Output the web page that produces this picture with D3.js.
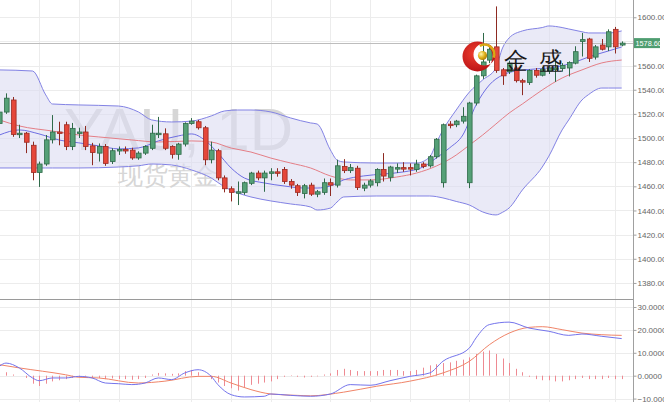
<!DOCTYPE html>
<html><head><meta charset="utf-8">
<script src="https://cdn.jsdelivr.net/npm/d3@7"></script>
<style>
body{margin:0;background:#fff;overflow:hidden}
svg{display:block}
text{font-family:"Liberation Sans",Arial,sans-serif}
</style>
</head><body>
<svg id="c" width="664" height="402"></svg>
<script>
// ---- Candles (daily, index 0..94) ----
const opens = [1512,1521.5,1531.5,1503.5,1504,1494,1471.5,1478.5,1498.5,1505,
1511,1493,1504.5,1505,1493.5,1487.5,1493,1480.5,1489.5,1490.5,
1490,1483.5,1487.5,1491.5,1503.5,1503.5,1493,1486.5,1495,1512,
1513.5,1508.5,1482,1489.5,1467,1458,1455,1455,1462.5,1471,
1467,1471.5,1472,1474,1464,1460.5,1454,1461,1453.5,1455,
1463,1461,1476.5,1473,1475,1458.5,1461,1463,1474,1467.5,
1475,1475.5,1475.5,1474,1478.5,1477,1484.5,1463,1511.5,1511,
1514,1463,1529,1551.5,1564.5,1575.5,1556.5,1555,1558,1547.5,
1546,1556,1552,1555.5,1557.5,1557.5,1558,1562,1580,1582,
1567,1577,1575.5,1590,1577];
const closes = [1521.5,1533,1503,1504,1496.5,1471.5,1478.5,1498.5,1505,1504,
1493,1508,1505,1493,1488,1493,1479,1489.5,1490.5,1489.5,
1483.5,1487.5,1493,1504,1504,1491.5,1486.5,1495,1512,1514,
1508.5,1482,1490,1467,1458,1455,1455.5,1463,1471,1467,
1471,1472,1471,1464,1461,1455,1460.5,1453.5,1455.5,1463,
1461,1477,1473,1475.5,1459,1461,1464.5,1474,1468.5,1476,
1475.5,1475,1474.5,1478.5,1476.5,1484.5,1499,1511,1510.5,1514,
1518,1529,1551.5,1563,1573.5,1556,1551.5,1562,1547.5,1546.5,
1556,1552,1557,1558,1558,1560,1562.5,1571.5,1581.5,1566,
1575.5,1573.5,1588,1575.5,1578.6];
const highs = [1525,1537,1534,1511,1505,1497,1480.5,1502.5,1519,1513.5,
1513.5,1512.5,1508.5,1510,1496,1495.5,1495,1491.5,1493,1493,
1492,1489,1494,1511,1517.5,1508,1494,1496,1513,1516.5,
1515,1510,1497,1491,1469,1460,1464,1464,1472,1473,
1473,1475,1475,1476,1466,1462,1462,1463,1457,1466.5,
1466.5,1482,1482.5,1478.5,1477,1463,1466,1475,1487.5,1477,
1479,1480,1479,1482,1480,1486,1500,1512,1514,1515,
1525.5,1530,1552.5,1587,1576,1609,1558,1564,1560,1549,
1557,1558,1559,1560,1565,1562,1563.5,1576,1587,1583,
1577,1582,1590,1592,1580];
const lows = [1509,1520,1501,1500,1487.5,1465,1459.5,1477,1495.5,1494,
1490,1490,1500,1490,1477.5,1480.5,1477,1478.5,1486,1487,
1482,1482,1486,1490,1500,1490,1483,1482,1493,1511,
1507,1477.5,1479,1465,1455,1447.5,1444.5,1453,1461,1465,
1455.5,1465,1468,1462,1458,1452,1450,1452,1451,1453,
1452,1459,1471,1471,1457,1456,1459,1460,1464,1464,
1471,1472,1469,1472,1475,1475.5,1483,1459,1508,1509,
1512,1458.5,1527,1549,1562,1554,1544,1553,1546,1535.5,
1544,1550,1551,1553,1546.5,1555,1551,1561,1567.5,1563,
1565,1572.5,1572,1570,1576];
const lastPrice = 1578.6;

// ---- Bollinger bands (read at candle indices) ----
const bbIdx   = [0,5,7,8,12,18,21,23,26,29,32,34,36,38,41,44,47,48,50,51,52,57,63,65,66,67,69,71,73,75,76,77,79,82,83,85,86,88,89,91,92,94];
const bbUpper = [1556.4,1555.5,1535.7,1528.2,1527.4,1526.5,1521.6,1515,1513.3,1514,1518.3,1522.4,1523.2,1523.2,1521.6,1516.6,1512.5,1511.6,1490.1,1481.8,1480.2,1479.3,1479.3,1484.3,1495.9,1506.7,1523.2,1538.1,1548.1,1558,1574.6,1582.9,1588.7,1591.5,1592.8,1591.5,1590.3,1588,1587,1587,1587,1588.7];
const bbLower = [1475.2,1475.2,1475.2,1475.2,1475.2,1476,1477,1478.5,1477.7,1473.6,1466.9,1459.5,1454.5,1451.2,1447.9,1445.4,1442.9,1440.4,1442,1447,1451.2,1452,1452,1452,1451.5,1450.4,1447.5,1444.5,1438.8,1436.3,1438.5,1442.1,1457,1476,1485,1506.7,1515,1531.5,1536,1541.4,1541.4,1541.4];

// ---- moving averages ----
const maRedIdx = [0,3,8,12,15,20,24,29,32,35,38,41,44,47,50,53,56,60,63,66,69,71,73,75,77,79,82,85,88,91,94];
const maRedVal = [1515,1510,1505.8,1502.5,1500.9,1498.4,1496.7,1497.6,1496.7,1491.7,1488.4,1483.4,1479.3,1475.2,1468.6,1465.3,1465.3,1467.7,1471,1476.8,1485.9,1494.2,1502.5,1511.6,1520.7,1528.2,1539.8,1549.7,1556.4,1562.2,1564.6];
const maBlueIdx = [0,3,6,9,12,15,18,21,24,27,29,31,33,35,37,40,43,46,48,50,52,55,58,61,64,66,68,70,72,74,76,78,81,84,87,89,92,94];
const maBlueVal = [1502.5,1506.7,1503.4,1498.4,1496,1493.5,1491,1491.8,1497.6,1501.7,1503.4,1498.4,1487.6,1475.2,1466.9,1462.8,1460.3,1458.6,1458.6,1460.3,1465.3,1468.6,1470.2,1471.9,1476,1483.5,1491.8,1502.5,1527.4,1543.9,1552.2,1555.5,1557.2,1558.8,1563,1567.1,1572.1,1575.4];

// ---- MACD ----
const macdIdx = [0,1,3,5,6,8,10,12,14,16,18,20,22,24,26,28,30,32,33,35,37,40,41,44,47,50,53,56,59,62,65,67,71,72,74,77,80,83,86,88,91,94];
const macdVal = [4.1,5.5,3.4,-1,-2.2,-1,-1,-0.3,-1,-3.2,-3.5,-3.9,-3.2,-1,-1.7,1.2,2.6,-0.3,-3.9,-8.3,-9.3,-9,-8,-8.6,-9,-8,-3.9,-4.2,-2.2,-0.3,1.2,6.3,12.1,16.5,22.3,23.4,20.8,19.4,17.6,18.2,17.2,16.2];
const sigIdx = [0,3,10,12,15,21,25,30,32,35,38,41,45,47,52,57,62,67,71,74,77,80,82,85,88,91,94];
const sigVal = [4.8,3.4,0.4,-0.7,-1,-3.2,-2.4,-0.3,-0.3,-3.2,-6.1,-8,-8.6,-8.8,-7.2,-4.6,-2.4,1.2,6.3,13.5,18.6,21.1,21.4,20.1,18.6,17.9,17.6];
const hist = [1,1.5,0.5,0,-1,-3.5,-4.5,-3.5,-2.5,-2,
-1.5,-1,-0.5,-0.5,-1,-1,-1.5,-1.2,-1.5,-1.5,
-1.8,-1.5,-1,0.5,1.2,1,0.8,1,2,2.5,
1.5,0,-1.5,-3,-4.5,-5.5,-6.5,-5,-4,-3.5,
-3,-2.5,-1.5,-0.5,0.2,-0.5,-0.8,-0.5,-0.3,0.5,
1,2.5,3,2.5,2,2,2,2,2.5,2.5,
2.5,2,2,2.5,3.5,4.5,5,5.5,5.8,6.5,
7,8,9.5,10.5,11,9.5,7.5,5.5,3,1.5,
-0.5,-1.5,-2,-2,-2.5,-2.5,-2,-1.5,-1,-1.5,
-1.5,-1.5,-1,-1.5,-1.5];

// ---- axes / grid ----
const priceTicks = [1380,1400,1420,1440,1460,1480,1500,1520,1540,1560,1580,1600];
const macdTicks = [-10,0,10,20,30];
const gridIdx = [6,12,18,29,35,41,50,56,62,71,77,83,93];
const watermark1 = "YAU, 1D";
const watermark2 = "现货黄金";
const brandChars = ["金","盛"];

// ================= drawing =================
const svg = d3.select('#c');
const AX = 633.5, PW = 633;
const x = d3.scaleLinear().domain([0, opens.length-1]).range([-0.6, 621.7]);
const y = d3.scaleLinear().domain([1366.7, 1614.3]).range([299, 0]);
const ym = d3.scaleLinear().domain([-11.5, 33.06]).range([402, 300]);

const defs = svg.append('defs');
defs.append('clipPath').attr('id','cp1').append('rect').attr('x',0).attr('y',0).attr('width',PW).attr('height',299);
defs.append('clipPath').attr('id','cp2').append('rect').attr('x',0).attr('y',300).attr('width',PW).attr('height',102);
const rg = defs.append('radialGradient').attr('id','gold').attr('cx','35%').attr('cy','35%').attr('r','70%');
rg.append('stop').attr('offset','0%').attr('stop-color','#fff6b0');
rg.append('stop').attr('offset','55%').attr('stop-color','#e0b21c');
rg.append('stop').attr('offset','100%').attr('stop-color','#a77a06');
const rr = defs.append('radialGradient').attr('id','redg').attr('cx','40%').attr('cy','40%').attr('r','70%');
rr.append('stop').attr('offset','0%').attr('stop-color','#f04030');
rr.append('stop').attr('offset','100%').attr('stop-color','#b30d12');

const px = v => Math.round(v) + 0.5;

// grid
const grid = svg.append('g').attr('stroke','#ececec').attr('stroke-width',1);
grid.selectAll('.hg').data(priceTicks).join('line')
  .attr('x1',0).attr('x2',PW).attr('y1',d=>px(y(d))).attr('y2',d=>px(y(d)));
grid.selectAll('.mg').data(macdTicks).join('line')
  .attr('x1',0).attr('x2',PW).attr('y1',d=>px(ym(d))).attr('y2',d=>px(ym(d)));
grid.selectAll('.vg').data(gridIdx).join('line')
  .attr('x1',d=>px(x(d))).attr('x2',d=>px(x(d))).attr('y1',0).attr('y2',402);

// price panel
const main = svg.append('g').attr('clip-path','url(#cp1)');

// watermark
main.append('text').attr('x',64).attr('y',150).attr('font-size',60)
  .attr('fill','#d6d6d6').attr('font-family','"Liberation Sans",Arial,sans-serif').text(watermark1);
main.append('text').attr('x',118).attr('y',184).attr('font-size',25)
  .attr('fill','#d6d6d6').attr('font-family','"Noto Sans CJK SC",sans-serif').text(watermark2);

// bollinger
const bb = bbIdx.map((d,i)=>({i:d,u:bbUpper[i],l:bbLower[i]}));
const area = d3.area().x(d=>x(d.i)).y0(d=>y(d.l)).y1(d=>y(d.u)).curve(d3.curveMonotoneX);
main.append('path').datum(bb).attr('d',area).attr('fill','#dcdcf2').attr('fill-opacity',0.6);
const lineU = d3.line().x(d=>x(d.i)).y(d=>y(d.u)).curve(d3.curveMonotoneX);
const lineL = d3.line().x(d=>x(d.i)).y(d=>y(d.l)).curve(d3.curveMonotoneX);
main.append('path').datum(bb).attr('d',lineU).attr('fill','none').attr('stroke','#8282e4').attr('stroke-width',1);
main.append('path').datum(bb).attr('d',lineL).attr('fill','none').attr('stroke','#8282e4').attr('stroke-width',1);

const pl = d3.line().x(d=>x(d[0])).y(d=>y(d[1])).curve(d3.curveMonotoneX);
main.append('path').datum(maRedIdx.map((d,i)=>[d,maRedVal[i]])).attr('d',pl)
  .attr('fill','none').attr('stroke','#e47e86').attr('stroke-width',1);
main.append('path').datum(maBlueIdx.map((d,i)=>[d,maBlueVal[i]])).attr('d',pl)
  .attr('fill','none').attr('stroke','#6e6ee2').attr('stroke-width',1);

// last price line
main.append('line').attr('x1',0).attr('x2',PW).attr('y1',px(y(lastPrice))).attr('y2',px(y(lastPrice)))
  .attr('stroke','#bdbdbd').attr('stroke-width',1);

// candles
const candles = opens.map((o,i)=>({i,o,c:closes[i],h:highs[i],l:lows[i],up:closes[i]>=o}));
const bw = 4.6;
const cg = main.append('g');
cg.selectAll('.wick').data(candles).join('line')
  .attr('x1',d=>px(x(d.i))).attr('x2',d=>px(x(d.i)))
  .attr('y1',d=>y(d.h)).attr('y2',d=>y(d.l))
  .attr('stroke',d=>d.up?'#2f6a49':'#8e2a22').attr('stroke-width',1);
cg.selectAll('.body').data(candles).join('rect')
  .attr('x',d=>Math.round(x(d.i))-2+0.5).attr('width',bw)
  .attr('y',d=>y(Math.max(d.o,d.c)))
  .attr('height',d=>Math.max(1.5, Math.abs(y(d.o)-y(d.c))))
  .attr('fill',d=>d.up?'#55a077':'#e5473a')
  .attr('stroke',d=>d.up?'#2f6a49':'#9a2b22').attr('stroke-width',0.8);

// macd panel
const mg = svg.append('g').attr('clip-path','url(#cp2)');
mg.selectAll('.hb').data(hist).join('line')
  .attr('x1',(d,i)=>px(x(i))).attr('x2',(d,i)=>px(x(i)))
  .attr('y1',ym(0)).attr('y2',d=>ym(d))
  .attr('stroke','#ee8a92').attr('stroke-width',1);
const ml = d3.line().x(d=>x(d[0])).y(d=>ym(d[1])).curve(d3.curveMonotoneX);
mg.append('path').datum(sigIdx.map((d,i)=>[d,sigVal[i]])).attr('d',ml)
  .attr('fill','none').attr('stroke','#f08468').attr('stroke-width',1);
mg.append('path').datum(macdIdx.map((d,i)=>[d,macdVal[i]])).attr('d',ml)
  .attr('fill','none').attr('stroke','#7474ec').attr('stroke-width',1);

// separator & axis line
svg.append('line').attr('x1',0).attr('x2',PW).attr('y1',299.5).attr('y2',299.5).attr('stroke','#9a9a9a');
svg.append('line').attr('x1',AX).attr('x2',AX).attr('y1',0).attr('y2',402).attr('stroke','#a0a0a0');

const yAxis = d3.axisRight(y).tickValues(priceTicks).tickSize(3).tickPadding(1).tickFormat(d3.format('.2f'));
const ga = svg.append('g').attr('transform',`translate(${AX},0)`).call(yAxis);
const mAxis = d3.axisRight(ym).tickValues(macdTicks).tickSize(3).tickPadding(1).tickFormat(d3.format('.4f'));
const gm = svg.append('g').attr('transform',`translate(${AX},0)`).call(mAxis);
[ga,gm].forEach(g=>{
  g.select('.domain').remove();
  g.selectAll('.tick line').attr('stroke','#a0a0a0');
  g.selectAll('.tick text').attr('fill','#666').attr('font-size',8)
    .attr('font-family','"Liberation Sans",Arial,sans-serif');
});
// the last-price tag sits over the nearest price tick label (hidden beneath it, as in the reference)
ga.selectAll('.tick').filter(d=>Math.abs(y(d)-y(lastPrice))<8).select('text').attr('opacity',0);

// last price label
const ly = y(lastPrice);
svg.append('rect').attr('x',634).attr('y',ly-5).attr('width',26).attr('height',10).attr('fill','#4e9d70');
svg.append('text').attr('x',635.5).attr('y',ly+2.6).attr('font-size',7.3).attr('fill','#fff')
  .text(d3.format('.2f')(lastPrice));

// logo
const logo = svg.append('g');
const crescent = `M ${477.5-15},56.5 a15,15 0 1,0 30,0 a15,15 0 1,0 -30,0 Z M ${484.5-11},54.5 a11,11 0 1,0 22,0 a11,11 0 1,0 -22,0 Z`;
logo.append('path').attr('d',crescent).attr('fill','url(#redg)').attr('fill-rule','evenodd');
logo.append('path').attr('d', d3.arc()({innerRadius:8.5,outerRadius:11,startAngle:-0.5,endAngle:1.9}))
  .attr('transform','translate(484.5,54.5)').attr('fill','#d9a915');
logo.append('circle').attr('cx',482.5).attr('cy',55.5).attr('r',4.6).attr('fill','url(#gold)');
logo.selectAll('.bc').data(brandChars).join('text')
  .attr('x',(d,i)=>504+i*35).attr('y',69).attr('font-size',24).attr('fill','#1a1a1a')
  .attr('font-family','"Noto Sans CJK SC",sans-serif').text(d=>d);
</script>
</body></html>
